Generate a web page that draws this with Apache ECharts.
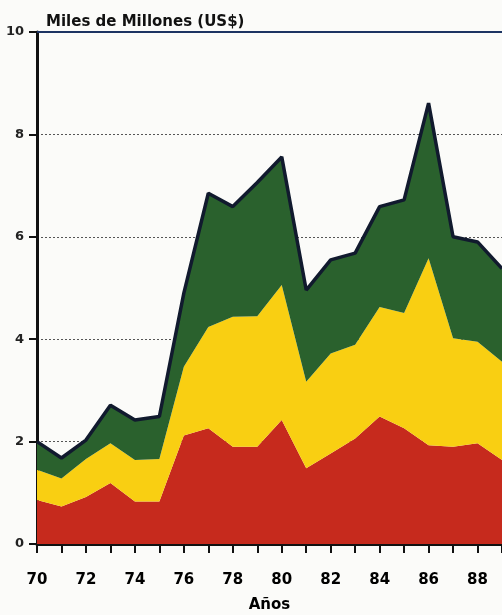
<!DOCTYPE html>
<html>
<head>
<meta charset="utf-8">
<script src="https://cdn.jsdelivr.net/npm/echarts@6/dist/echarts.min.js"></script>
<style>html,body{margin:0;padding:0;background:#fbfbf9;}#c{width:502px;height:615px;}</style>
</head>
<body>
<div id="c"></div>
<script>
const years = ['70','71','72','73','74','75','76','77','78','79','80','81','82','83','84','85','86','87','88','89'];
const redValues    = [0.86,0.73,0.92,1.19,0.83,0.83,2.12,2.26,1.90,1.90,2.42,1.48,1.77,2.06,2.49,2.26,1.93,1.90,1.97,1.64];
const yellowValues = [0.59,0.55,0.74,0.78,0.81,0.83,1.34,1.98,2.54,2.55,2.64,1.69,1.95,1.83,2.14,2.25,3.65,2.12,1.98,1.92];
const greenValues  = [0.55,0.40,0.37,0.74,0.78,0.83,1.44,2.61,2.15,2.61,2.50,1.79,1.83,1.79,1.96,2.21,3.03,1.98,1.95,1.82];
const yTicks = [0,2,4,6,8,10];
const titleText = 'Miles de Millones (US$)';
const xName = 'Años';

const font = 'DejaVu Sans';
const chart = echarts.init(document.getElementById('c'));
chart.setOption({
  backgroundColor:'#fbfbf9',
  animation:false,
  title:{text:titleText,left:41,top:10,textStyle:{fontFamily:font,fontWeight:'bold',fontSize:15,color:'#111'}},
  grid:{left:37,right:0,top:32,bottom:71,containLabel:false,outerBoundsMode:'none'},
  xAxis:[{
    type:'category',data:years,boundaryGap:false,
    name:xName,nameLocation:'middle',nameGap:54,
    nameTextStyle:{fontFamily:font,fontWeight:'bold',fontSize:15,color:'#000'},
    axisLine:{show:true,onZero:false,lineStyle:{color:'#111',width:3}},
    axisTick:{show:true,interval:0,length:9,lineStyle:{color:'#111',width:2}},
    axisLabel:{margin:29,interval:1,fontFamily:font,fontWeight:'bold',fontSize:15,color:'#000'},
    splitLine:{show:false}
  },{
    type:'category',data:years,boundaryGap:false,position:'top',
    axisLine:{show:true,onZero:false,lineStyle:{color:'#1d3463',width:2}},
    axisTick:{show:false},axisLabel:{show:false},splitLine:{show:false}
  }],
  yAxis:{
    type:'value',min:yTicks[0],max:yTicks[yTicks.length-1],interval:2,
    axisLine:{show:true,lineStyle:{color:'#111',width:3}},
    axisTick:{show:true,length:8,lineStyle:{color:'#111',width:2}},
    axisLabel:{margin:13,padding:[6,0,0,0],fontFamily:font,fontWeight:'bold',fontSize:13,color:'#222'},
    splitLine:{show:true,lineStyle:{color:'#555',type:[2,2],width:1}}
  },
  series:[
    {name:'r',type:'line',stack:'t',data:redValues,symbol:'none',
      lineStyle:{width:0},areaStyle:{color:'#c62a1d',opacity:1}},
    {name:'y',type:'line',stack:'t',data:yellowValues,symbol:'none',
      lineStyle:{width:0},areaStyle:{color:'#f9cf12',opacity:1}},
    {name:'g',type:'line',stack:'t',data:greenValues,symbol:'none',
      lineStyle:{width:3.5,color:'#111a2e'},areaStyle:{color:'#2a612d',opacity:1},z:3}
  ]
});
</script>
</body>
</html>
